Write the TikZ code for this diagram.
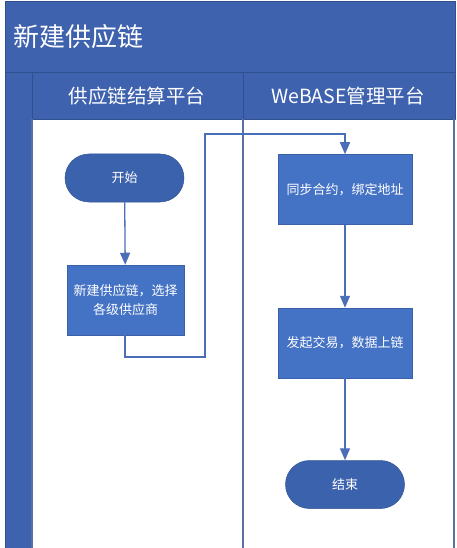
\documentclass[tikz,border=0pt]{standalone}
\usepackage{fontspec}
\setmainfont{Noto Sans CJK SC}
\usetikzlibrary{arrows.meta}
\definecolor{titleblue}{HTML}{3F62AE}
\definecolor{boxblue}{HTML}{4472C4}
\definecolor{termblue}{HTML}{3B62AD}
\definecolor{edgeblue}{HTML}{2F4F8F}
\definecolor{lineblue}{HTML}{4A6FB8}
\begin{document}
\begin{tikzpicture}[x=1pt,y=-1pt,
  band/.style={fill=titleblue,draw=edgeblue,line width=0.8pt},
  procbox/.style={fill=boxblue,draw=boxblue!85!black,line width=0.5pt,text=white,minimum width=134pt,minimum height=70pt,align=center,font=\fontsize{13}{19}\selectfont,inner sep=2pt},
  termnode/.style={fill=termblue,draw=termblue!85!black,line width=0.5pt,text=white,minimum width=119pt,minimum height=48pt,rounded corners=24pt,font=\fontsize{13}{16}\selectfont},
  flow/.style={draw=lineblue,line width=1.3pt,-{Triangle[width=10pt,length=12pt]}},
  lane/.style={draw=edgeblue!80,line width=1.2pt}]
\useasboundingbox (0,0) rectangle (456,548);
\fill[white] (0,0) rectangle (456,548);
% title
\draw[band] (5,1) rectangle (455,72);
\node[anchor=west,text=white,font=\fontsize{26}{30}\selectfont,inner sep=0pt] (title) at (13,37) {新建供应链};
% left band
\draw[band] (5,72) rectangle (32,549);
% header
\draw[band] (32,72) rectangle (243,119);
\draw[band] (243,72) rectangle (455,119);
\node[text=white,font=\fontsize{19.5}{22}\selectfont,inner sep=0pt] (h1) at (137,96) {供应链结算平台};
\node[text=white,font=\fontsize{19.5}{22}\selectfont,inner sep=0pt] (h2) at (348,96) {WeBASE管理平台};
% lanes
\draw[lane] (32,119) -- (32,549);
\draw[lane] (243,119) -- (243,549);
\draw[lane] (454,119) -- (454,549);
% nodes
\node[termnode] (start) at (124.5,178) {开始};
\node[procbox,minimum width=117pt] (b1) at (125.5,300) {新建供应链，选择\\各级供应商};
\node[procbox] (b2) at (345,189.5) {同步合约，绑定地址};
\node[procbox] (b3) at (345,343) {发起交易，数据上链};
\node[termnode] (end) at (345,484.5) {结束};
% connectors
\coordinate (c1) at (125,357);
\coordinate (c2) at (205,357);
\coordinate (c3) at (205,134);
\coordinate (c4) at (345,134);
\draw[flow] (start) -- (b1);
\draw[flow] (b1.south -| c1) -- (c1) -- (c2) -- (c3) -- (c4) -- (b2.north);
\draw[flow] (b2) -- (b3);
\draw[flow] (b3) -- (end);
\end{tikzpicture}
\end{document}
